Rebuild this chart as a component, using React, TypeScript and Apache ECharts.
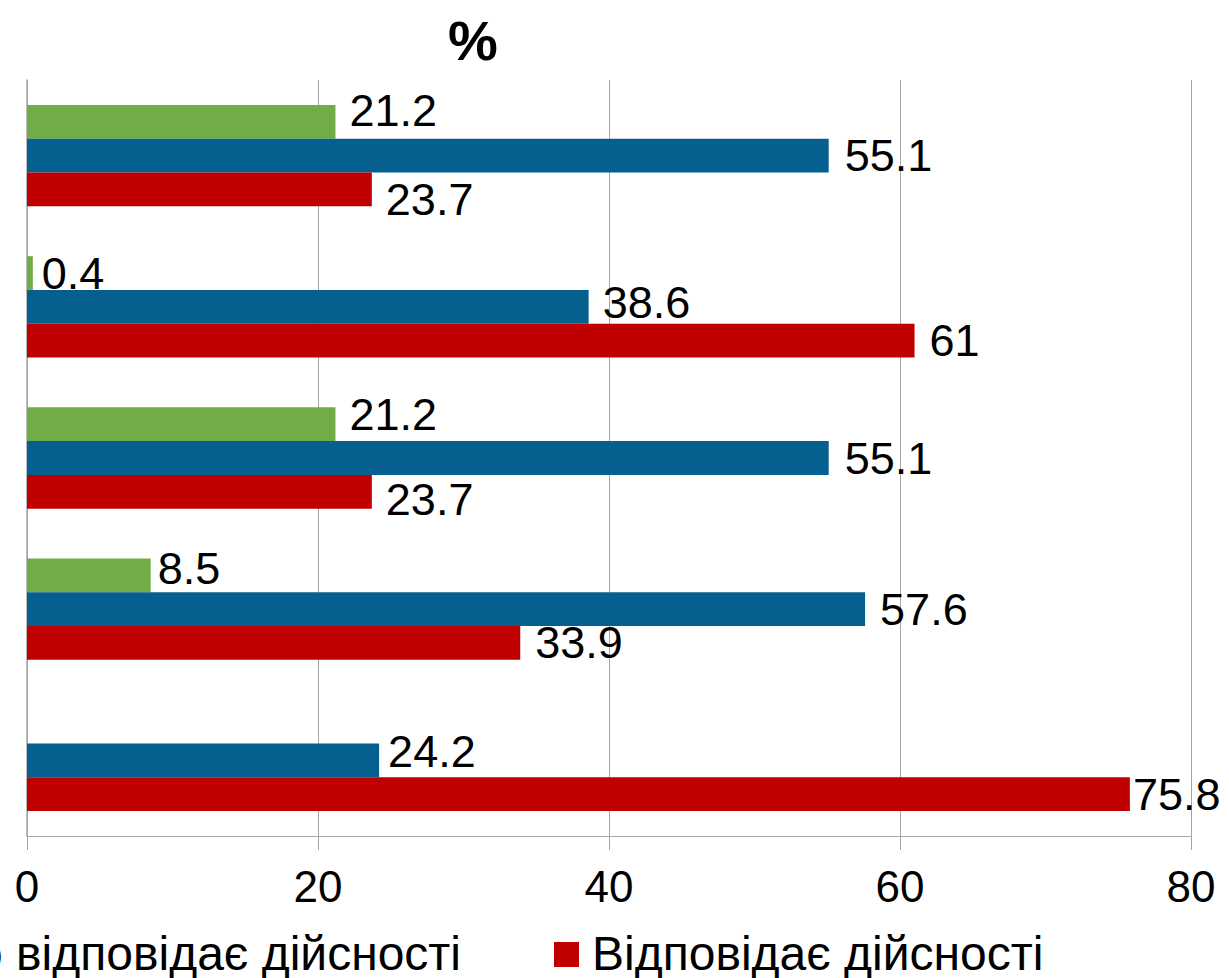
import React, { useEffect, useRef } from "react";
import * as echarts from "echarts";

const categories = ["Питання 1", "Питання 2", "Питання 3", "Питання 4", "Питання 5"];
const seriesNames = ["Не відповідає дійсності", "Частково відповідає дійсності", "Відповідає дійсності"];
const greenValues: (number | null)[] = [21.2, 0.4, 21.2, 8.5, null];
const blueValues: (number | null)[] = [55.1, 38.6, 55.1, 57.6, 24.2];
const redValues: (number | null)[] = [23.7, 61, 23.7, 33.9, 75.8];
const xTicks = [0, 20, 40, 60, 80];

const colors = ["#70ad47", "#05608f", "#c00000"];
// label nudges (dx, dy) per series and category, as placed in the reference
const labelNudges: number[][][] = [
  [[0, -11], [-5, 0], [0, -10], [-7, -7], [0, 0]],
  [[2, 0], [0, -4], [2, 0], [1, 0], [-5, -9]],
  [[0, 10], [1, 0], [0, 8], [1, 0], [-11, 0]],
];

const FONT = "'Liberation Sans', Arial, sans-serif";

export default function App() {
  const ref = useRef<HTMLDivElement>(null);
  useEffect(() => {
    document.body.style.margin = "0";
    if (!ref.current) return;
    const chart = echarts.init(ref.current, undefined, { renderer: "svg" });
    const allValues = [greenValues, blueValues, redValues];
    const series = allValues.map((vals, si) => ({
      name: seriesNames[si],
      type: "bar",
      barGap: "0%",
      barCategoryGap: "33%",
      itemStyle: { color: colors[si] },
      data: vals.map((v, ci) => ({
        value: v,
        label: { offset: labelNudges[si][ci] },
      })),
      label: {
        show: true,
        position: "right",
        distance: 14,
        color: "#000",
        fontSize: 45,
        fontFamily: FONT,
        formatter: (p: any) => (p.value == null ? "" : String(p.value)),
      },
    }));
    chart.setOption({
      animation: false,
      textStyle: { fontFamily: FONT },
      grid: { left: 27, right: 38, top: 80, bottom: 142, containLabel: false },
      xAxis: {
        type: "value",
        min: xTicks[0],
        max: xTicks[xTicks.length - 1],
        interval: xTicks[1] - xTicks[0],
        axisLine: { show: true, lineStyle: { color: "#a6a6a6", width: 1 } },
        axisTick: { show: true, length: 14, lineStyle: { color: "#a6a6a6" } },
        splitLine: { show: true, lineStyle: { color: "#a6a6a6", width: 1 } },
        axisLabel: { fontSize: 44, color: "#000", margin: 28, fontFamily: FONT },
      },
      yAxis: {
        type: "category",
        inverse: true,
        data: categories,
        axisLine: { show: true, lineStyle: { color: "#a6a6a6", width: 1.5 } },
        axisTick: { show: false },
        axisLabel: { show: false },
        splitLine: { show: false },
      },
      series,
      graphic: [
        {
          type: "text",
          x: 473,
          y: 40,
          style: {
            text: "%",
            fontSize: 56,
            fontWeight: "bold",
            fontFamily: FONT,
            fill: "#000",
            align: "center",
            verticalAlign: "middle",
          },
        },
        {
          type: "rect",
          shape: { x: 554, y: 942, width: 25, height: 25 },
          style: { fill: colors[2] },
        },
        {
          type: "text",
          x: 592,
          y: 953,
          style: {
            text: seriesNames[2],
            fontSize: 48,
            fontFamily: FONT,
            fill: "#000",
            align: "left",
            verticalAlign: "middle",
          },
        },
        {
          type: "text",
          x: 461,
          y: 953,
          style: {
            text: seriesNames[1],
            fontSize: 48,
            fontFamily: FONT,
            fill: "#000",
            align: "right",
            verticalAlign: "middle",
          },
        },
      ],
    });
    return () => chart.dispose();
  }, []);
  return <div ref={ref} style={{ width: 1229, height: 978 }} />;
}
